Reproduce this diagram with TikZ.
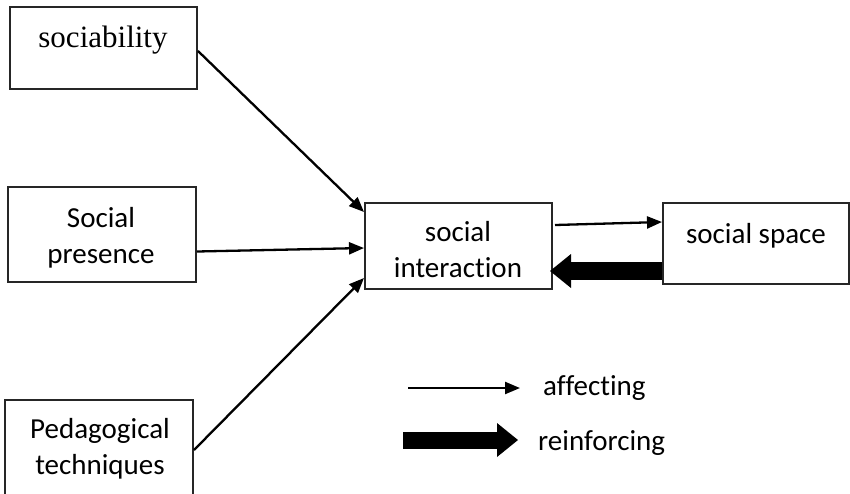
\documentclass[tikz,border=0pt]{standalone}
\usepackage{fontspec}
\setmainfont{Liberation Serif}
\newfontfamily\calfont[Ligatures=NoCommon]{Carlito}
\usetikzlibrary{arrows.meta,calc}
\begin{document}
\begin{tikzpicture}[x=1pt,y=-1pt,
  box/.style={draw=black!85,line width=2pt,rectangle,inner sep=0pt},
  lbl/.style={font=\calfont\fontsize{29}{36}\selectfont,align=center,inner sep=0pt},
  thin/.style={line width=2.3pt,-{Triangle[length=15pt,width=12pt]}},
  fat/.style={line width=18pt,-{Triangle[length=21pt,width=34pt,line width=0pt]}}]
\useasboundingbox (0,0) rectangle (850,493);
% boxes
\node[box,minimum width=187pt,minimum height=82pt] (soc) at (103.5,48) {};
\node[box,minimum width=188pt,minimum height=95pt] (pres) at (102,234.5) {};
\node[box,minimum width=188pt,minimum height=97pt] (ped) at (99,448.5) {};
\node[box,minimum width=187pt,minimum height=86pt] (inter) at (458.5,246) {};
\node[box,minimum width=186pt,minimum height=81pt] (space) at (756,243.5) {};
% texts
\node[font=\fontsize{31}{36}\selectfont,inner sep=0pt,anchor=base] (soct) at (103,47) {sociability};
\node[lbl] (prest) at (101,238) {Social\\presence};
\node[lbl] (pedt) at (100,448.5) {Pedagogical\\techniques};
\node[lbl] (intert) at (458,250) {social\\interaction};
\node[lbl,anchor=base] (spacet) at (756,243) {social space};
% connectors
\draw[thin] ($(soc.east)+(0,3)$) -- ($(inter.north west)+(0,10)$);
\draw[thin] ($(pres.east)+(0,17)$) -- ($(inter.west)+(0,2)$);
\draw[thin] ($(ped.east)+(0,1.5)$) -- ($(inter.south west)+(0,-12)$);
\draw[thin] ($(inter.east)+(2,-21)$) -- ($(space.west)+(0,-21.5)$);
\draw[fat] ($(space.west)+(0,27.5)$) -- ($(inter.east)+(-3,25)$);
% legend
\coordinate (l1a) at (408,388);
\coordinate (l1b) at (520,388);
\coordinate (l2a) at (403,440);
\coordinate (l2b) at (518,440);
\draw[thin] (l1a) -- (l1b);
\draw[fat,line width=17pt] (l2a) -- (l2b);
\node[lbl,anchor=base west] (afft) at (543,395) {affecting};
\node[lbl,anchor=base west] (reit) at (538,450) {reinforcing};
\end{tikzpicture}
\end{document}
